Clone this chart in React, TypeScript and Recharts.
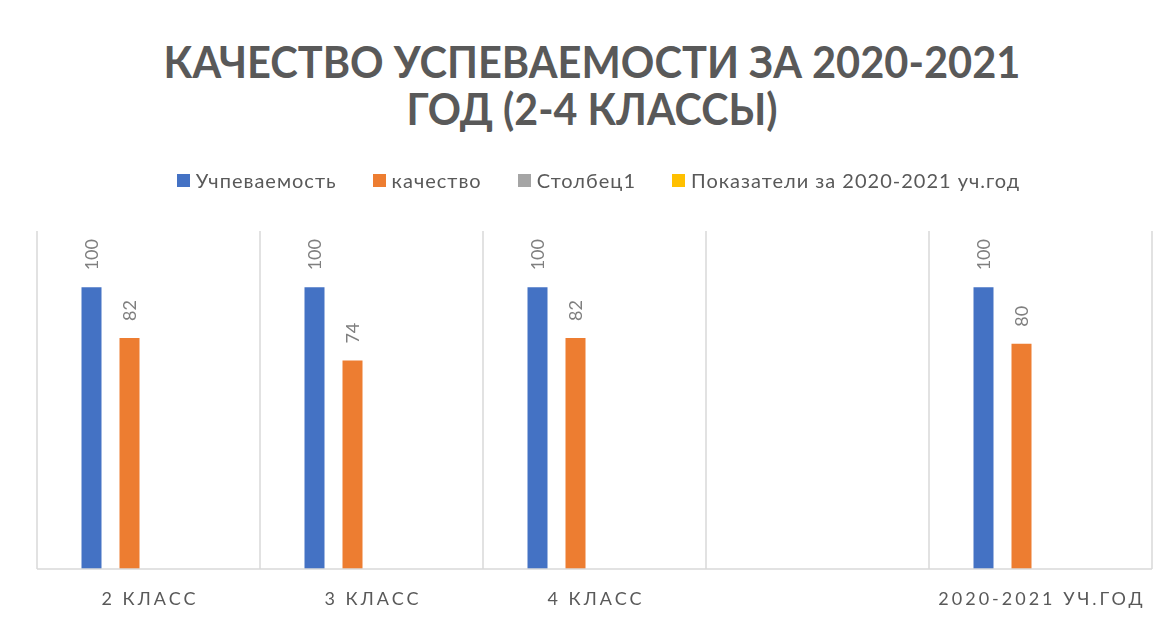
import { BarChart, Bar, XAxis, YAxis, CartesianGrid, LabelList } from "recharts";

const categories = ["2 класс", "3 класс", "4 класс", "", "2020-2021 уч.год"];
const uspevaemost = [100, 100, 100, null, 100];
const kachestvo = [82, 74, 82, null, 80];
const stolbec1 = [null, null, null, null, null];
const pokazateli = [null, null, null, null, null];

const seriesNames = ["Учпеваемость", "качество", "Столбец1", "Показатели за 2020-2021 уч.год"];
const seriesColors = ["#4472C4", "#ED7D31", "#A5A5A5", "#FFC000"];
const titleLines = ["КАЧЕСТВО УСПЕВАЕМОСТИ ЗА 2020-2021", "ГОД (2-4 КЛАССЫ)"];

const data = categories.map((name, i) => ({
  name,
  s0: uspevaemost[i],
  s1: kachestvo[i],
  s2: stolbec1[i],
  s3: pokazateli[i],
}));

const FONT = "Lato, 'Open Sans', sans-serif";

// value labels sit above the bar, reading bottom-to-top
const RotatedLabel = (props: any) => {
  const { x, y, width, value } = props;
  if (value == null) return null;
  const cx = x + width / 2;
  const cy = y - 17;
  return (
    <text
      x={cx}
      y={cy}
      transform={`rotate(-90 ${cx} ${cy})`}
      textAnchor="start"
      dominantBaseline="central"
      fill="#7F7F7F"
      fontSize={18}
      fontFamily={FONT}
    >
      {value}
    </text>
  );
};

const CategoryTick = (props: any) => {
  const { x, y, payload } = props;
  return (
    <text
      x={x + 1.5}
      y={y + 36}
      textAnchor="middle"
      fill="#595959"
      fontSize={18}
      letterSpacing={3}
      fontFamily={FONT}
    >
      {String(payload.value).toUpperCase()}
    </text>
  );
};

export default function App() {
  return (
    <div
      style={{
        position: "fixed",
        left: 0,
        top: 0,
        width: 1169,
        height: 622,
        background: "#fff",
        fontFamily: FONT,
      }}
    >
      <svg width={1169} height={140} style={{ position: "absolute", left: 0, top: 0 }}>
        <text
          x={592}
          y={78}
          textAnchor="middle"
          fill="#595959"
          fontSize={43}
          fontWeight="bold"
          fontFamily={FONT}
          textLength={857}
          lengthAdjust="spacingAndGlyphs"
        >
          {titleLines[0]}
        </text>
        <text
          x={592}
          y={125}
          textAnchor="middle"
          fill="#595959"
          fontSize={43}
          fontWeight="bold"
          fontFamily={FONT}
          textLength={371}
          lengthAdjust="spacingAndGlyphs"
        >
          {titleLines[1]}
        </text>
      </svg>

      <div
        style={{
          position: "absolute",
          left: 14,
          top: 165,
          width: 1169,
          display: "flex",
          justifyContent: "center",
          gap: 36,
          fontSize: 20,
          letterSpacing: 1,
          color: "#595959",
          lineHeight: "30px",
        }}
      >
        {seriesNames.map((n, i) => (
          <div key={n} style={{ display: "flex", alignItems: "center", gap: 6 }}>
            <span style={{ width: 13, height: 13, background: seriesColors[i], display: "inline-block" }} />
            <span>{n}</span>
          </div>
        ))}
      </div>

      <div style={{ position: "absolute", left: 0, top: 0 }}>
        <BarChart
          width={1169}
          height={622}
          data={data}
          margin={{ top: 231, right: 17, bottom: 13, left: 37 }}
          barCategoryGap={44.5}
          barGap={18}
        >
          <CartesianGrid
            horizontal={false}
            stroke="#D9D9D9"
            strokeWidth={1.5}
            verticalCoordinatesGenerator={({ offset }: any) =>
              categories
                .map((_, i) => offset.left + (offset.width * i) / categories.length)
                .concat(offset.left + offset.width)
            }
          />
          <XAxis
            dataKey="name"
            height={40}
            interval={0}
            tickLine={false}
            tickSize={0}
            tickMargin={0}
            axisLine={{ stroke: "#D9D9D9", strokeWidth: 1.5 }}
            tick={<CategoryTick />}
          />
          <YAxis hide domain={[0, 120]} />
          {["s0", "s1", "s2", "s3"].map((k, i) => (
            <Bar key={k} dataKey={k} name={seriesNames[i]} fill={seriesColors[i]} isAnimationActive={false}>
              <LabelList dataKey={k} content={<RotatedLabel />} />
            </Bar>
          ))}
        </BarChart>
      </div>
    </div>
  );
}
